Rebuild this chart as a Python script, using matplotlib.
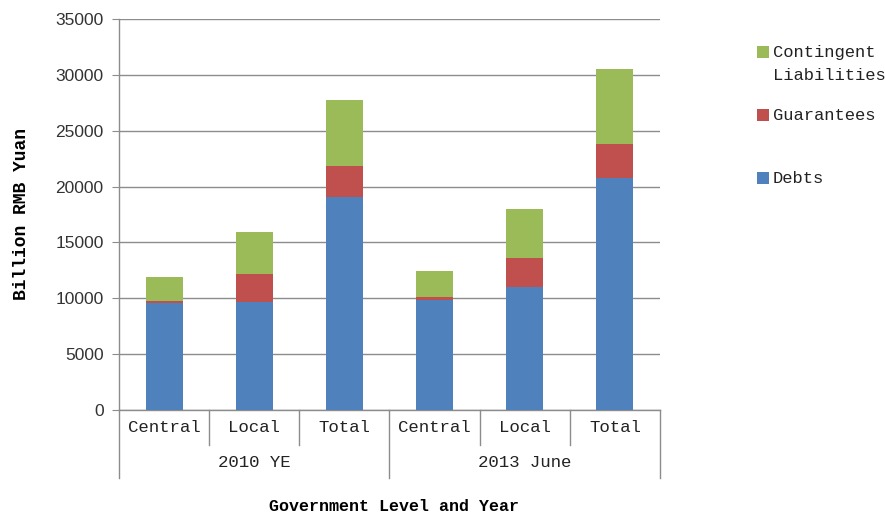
import matplotlib
import matplotlib.pyplot as plt
from matplotlib.patches import Rectangle
import numpy as np

plt.switch_backend("agg")

# -----------------------------
# Data (billion RMB yuan)
# -----------------------------
GROUPS = ["2010 YE", "2013 June"]
LEVELS = ["Central", "Local", "Total"]
DEBTS = [9550, 9640, 19050, 9850, 10990, 20810]
GUARANTEES = [240, 2550, 2780, 240, 2640, 3000]
CONTINGENT = [2160, 3780, 5950, 2340, 4320, 6670]
Y_TICKS = [0, 5000, 10000, 15000, 20000, 25000, 30000, 35000]

SERIES_NAMES = ["Debts", "Guarantees", "Contingent\nLiabilities"]
SERIES_COLORS = ["#4F81BD", "#C0504D", "#9BBB59"]
GRID_COLOR = "#8c8c8c"
MONO = ["Liberation Mono", "DejaVu Sans Mono"]

W, H = 885, 516


def main():
    fig = plt.figure(figsize=(W / 100, H / 100), dpi=100)
    fig.patch.set_facecolor("white")
    ax = fig.add_axes([119 / W, 1 - 410 / H, 541 / W, 391 / H])

    n = len(DEBTS)
    x = np.arange(n)
    width = 0.41
    values = [np.array(v, dtype=float) for v in (DEBTS, GUARANTEES, CONTINGENT)]

    bottom = np.zeros(n)
    for vals, color in zip(values, SERIES_COLORS):
        ax.bar(x, vals, width, bottom=bottom, color=color, zorder=3)
        bottom = bottom + vals

    ax.set_xlim(-0.5, n - 0.5)
    ax.set_ylim(0, 35000)
    ax.set_yticks(Y_TICKS)
    ax.set_yticklabels([str(t) for t in Y_TICKS],
                       fontsize=12.5, family=["Liberation Sans", "DejaVu Sans"],
                       color="#333333")
    ax.tick_params(axis="y", length=5, color=GRID_COLOR, pad=6)
    ax.set_xticks([])

    ax.yaxis.grid(True, color=GRID_COLOR, linewidth=1.0, zorder=0)
    ax.set_axisbelow(True)
    for side in ["top", "right"]:
        ax.spines[side].set_visible(False)
    for side in ["left", "bottom"]:
        ax.spines[side].set_color(GRID_COLOR)
        ax.spines[side].set_linewidth(1.0)

    # category labels below the axis (two levels)
    trans = ax.get_xaxis_transform()
    for i in range(n):
        ax.text(x[i], -0.045, LEVELS[i % len(LEVELS)], transform=trans,
                ha="center", va="center", fontsize=12.5, family=MONO, color="#222222")
    for g, name in enumerate(GROUPS):
        center = g * len(LEVELS) + (len(LEVELS) - 1) / 2
        ax.text(center, -0.135, name, transform=trans,
                ha="center", va="center", fontsize=12.5, family=MONO, color="#222222")

    # separators
    for i in range(n + 1):
        xpos = i - 0.5
        y_end = -0.175 if i % len(LEVELS) == 0 else -0.09
        ax.plot([xpos, xpos], [0, y_end], transform=trans, color=GRID_COLOR,
                linewidth=1.0, clip_on=False)

    ax.set_ylabel("Billion RMB Yuan", fontsize=13, fontweight="bold", family=MONO)
    ax.yaxis.set_label_coords(-0.165, 0.5)
    fig.text(0.445, 0.004, "Government Level and Year", ha="center", va="bottom",
             fontsize=12, fontweight="bold", family=MONO)

    # legend, top entry = last series, handle aligned with first text line
    sq = 12
    for k, idx in enumerate(reversed(range(len(SERIES_NAMES)))):
        yc = 52 + 63 * k
        fig.add_artist(Rectangle((757 / W, 1 - (yc + sq / 2) / H), sq / W, sq / H,
                                 transform=fig.transFigure,
                                 facecolor=SERIES_COLORS[idx], edgecolor="none"))
        fig.text(773 / W, 1 - (yc - 7) / H, SERIES_NAMES[idx], ha="left", va="top",
                 fontsize=12.3, family=MONO, color="#222222", linespacing=1.7)

    fig.savefig("out.png", dpi=100, facecolor="white")
    plt.close(fig)


if __name__ == "__main__":
    main()
